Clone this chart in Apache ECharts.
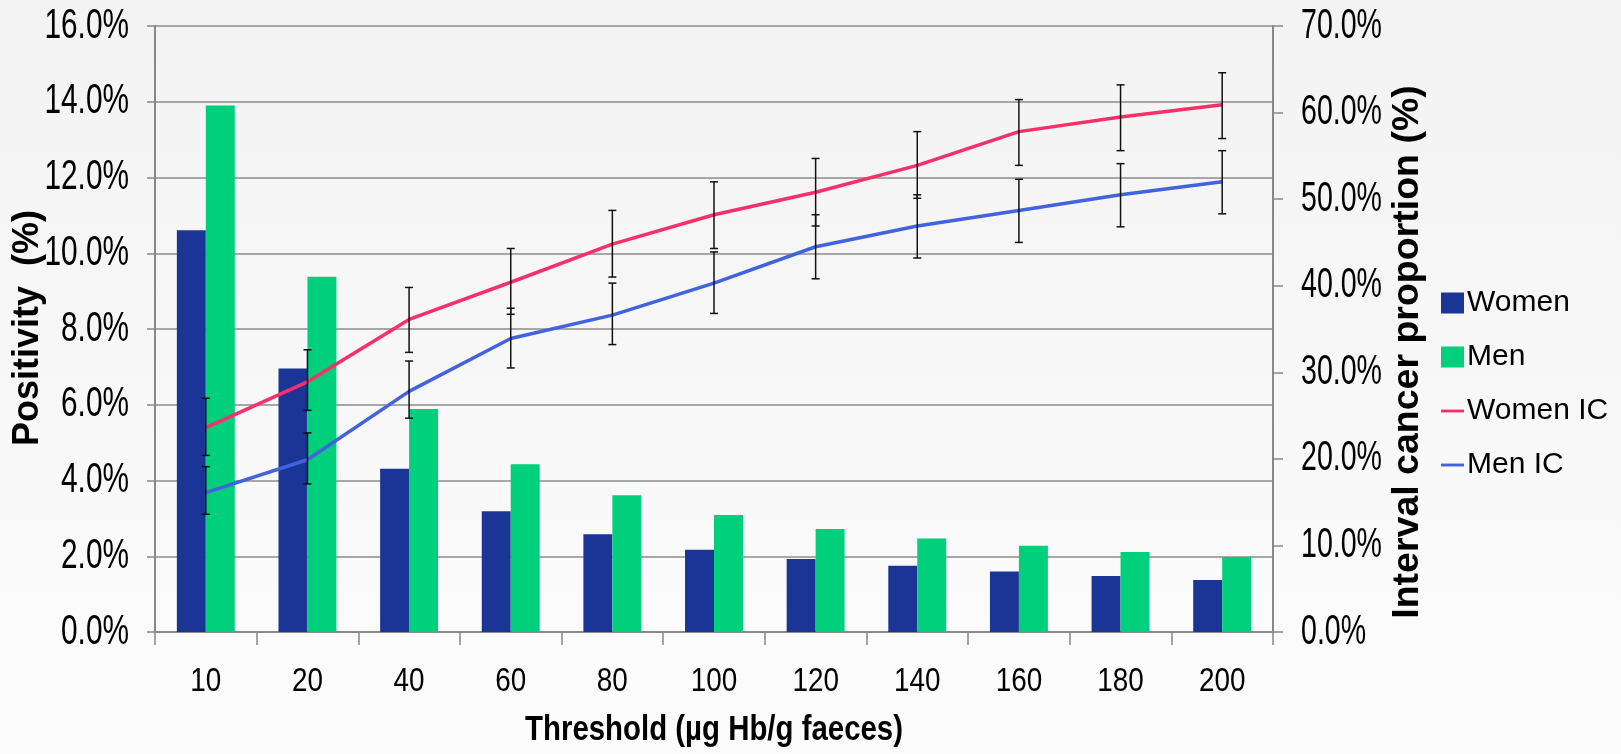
<!DOCTYPE html>
<html>
<head>
<meta charset="utf-8">
<script src="https://cdn.jsdelivr.net/npm/echarts@6/dist/echarts.min.js"></script>
<style>
  html, body { margin: 0; padding: 0; background: #f7f7f7; }
  #chart { width: 1621px; height: 754px; }
</style>
</head>
<body>
<div id="chart"></div>
<script>
// FIT thresholds (µg Hb/g faeces)
const thresholds = ['10', '20', '40', '60', '80', '100', '120', '140', '160', '180', '200'];

// Positivity (%) by sex
const womenPositivity = [10.61, 6.96, 4.31, 3.19, 2.58, 2.17, 1.93, 1.75, 1.60, 1.48, 1.37];
const menPositivity   = [13.90, 9.38, 5.89, 4.43, 3.61, 3.09, 2.72, 2.47, 2.28, 2.11, 1.98];

// Interval cancer proportion (%) with 95% CI
const womenIC      = [23.6, 28.9, 36.1, 40.4, 44.8, 48.2, 50.8, 53.9, 57.8, 59.5, 60.9];
const womenICLower = [20.4, 25.6, 32.3, 36.7, 41.0, 44.3, 46.9, 50.1, 53.9, 55.6, 57.0];
const womenICUpper = [27.0, 32.6, 39.8, 44.3, 48.7, 52.0, 54.7, 57.8, 61.5, 63.2, 64.6];
const menIC        = [16.1, 19.9, 27.8, 33.9, 36.6, 40.3, 44.5, 46.9, 48.7, 50.5, 52.0];
const menICLower   = [13.6, 17.1, 24.7, 30.5, 33.2, 36.8, 40.8, 43.2, 45.0, 46.8, 48.3];
const menICUpper   = [19.1, 23.0, 31.3, 37.4, 40.3, 43.9, 48.2, 50.5, 52.3, 54.1, 55.6];

// Axis tick values
const positivityTicks = [0, 2, 4, 6, 8, 10, 12, 14, 16];
const icTicks = [0, 10, 20, 30, 40, 50, 60, 70];

const FONT = "'Liberation Sans', Arial, sans-serif";

function pct(v) { return v.toFixed(1) + '%'; }

function ciData(lower, upper) {
  return thresholds.map((t, i) => [i, lower[i], upper[i]]);
}

// Vertical whisker with caps drawn on the right (IC) axis
function renderErrorBar(params, api) {
  const lo = api.coord([api.value(0), api.value(1)]);
  const hi = api.coord([api.value(0), api.value(2)]);
  const cap = 4;
  const style = { stroke: '#111', lineWidth: 1.5 };
  return {
    type: 'group',
    children: [
      { type: 'line', shape: { x1: hi[0], y1: hi[1], x2: lo[0], y2: lo[1] }, style },
      { type: 'line', shape: { x1: hi[0] - cap, y1: hi[1], x2: hi[0] + cap, y2: hi[1] }, style },
      { type: 'line', shape: { x1: lo[0] - cap, y1: lo[1], x2: lo[0] + cap, y2: lo[1] }, style }
    ]
  };
}

// Narrow (horizontally condensed) text element
function narrowText(x, y, text, size, align, squeeze, bold) {
  return {
    type: 'text', x: x, y: y, scaleX: squeeze, silent: true,
    style: {
      text: text, x: 0, y: 0, fill: '#000',
      fontFamily: FONT, fontSize: size, fontWeight: bold ? 'bold' : 'normal',
      textAlign: align, textVerticalAlign: 'middle'
    }
  };
}

// Category labels under the x axis
function renderXLabel(params, api) {
  const p = api.coord([api.value(0), 0]);
  return narrowText(p[0], p[1] + 50, thresholds[params.dataIndex], 34, 'center', 0.82, false);
}
// Left axis tick labels
function renderLeftLabel(params, api) {
  const p = api.coord([0, api.value(1)]);
  return narrowText(params.coordSys.x - 26, p[1], pct(api.value(1)), 42, 'right', 0.71, false);
}
// Right axis tick labels
function renderRightLabel(params, api) {
  const p = api.coord([0, api.value(1)]);
  return narrowText(params.coordSys.x + params.coordSys.width + 28, p[1], pct(api.value(1)), 42, 'left', 0.68, false);
}

const lineIcon = 'path://M0,0 L24,0 L24,3 L0,3 Z';

const chart = echarts.init(document.getElementById('chart'));
chart.setOption({
  animation: false,
  backgroundColor: {
    type: 'linear', x: 0, y: 0, x2: 0, y2: 1,
    colorStops: [{ offset: 0, color: '#f3f3f3' }, { offset: 1, color: '#fcfcfc' }]
  },
  grid: { left: 155, right: 348, top: 26, bottom: 122, outerBoundsMode: 'none', containLabel: false },
  legend: {
    orient: 'vertical',
    left: 1436,
    top: 283,
    itemGap: 24,
    itemWidth: 23,
    itemHeight: 21,
    symbolKeepAspect: true,
    textStyle: { fontFamily: FONT, fontSize: 30, color: '#000', padding: [0, 0, 0, -2] },
    data: [
      { name: 'Women', icon: 'rect' },
      { name: 'Men', icon: 'rect' },
      { name: 'Women IC', icon: lineIcon },
      { name: 'Men IC', icon: lineIcon }
    ]
  },
  graphic: [
    narrowText(714, 730, 'Threshold (µg Hb/g faeces)', 35, 'center', 0.84, true),
    {
      type: 'text', x: 28, y: 328, rotation: Math.PI / 2, silent: true,
      style: { text: 'Positivity  (%)', x: 0, y: 0, fill: '#000',
               fontFamily: FONT, fontSize: 36, fontWeight: 'bold',
               textAlign: 'center', textVerticalAlign: 'middle' }
    },
    {
      type: 'text', x: 1408, y: 352, rotation: Math.PI / 2, silent: true,
      style: { text: 'Interval cancer proportion (%)', x: 0, y: 0, fill: '#000',
               fontFamily: FONT, fontSize: 37.5, fontWeight: 'bold',
               textAlign: 'center', textVerticalAlign: 'middle' }
    }
  ],
  xAxis: {
    type: 'category',
    data: thresholds,
    axisLine: { lineStyle: { color: '#888', width: 2 } },
    axisTick: { show: true, length: 13, lineStyle: { color: '#888', width: 1.5 } },
    axisLabel: { show: false }
  },
  yAxis: [
    {
      type: 'value',
      min: 0, max: 16, interval: 2,
      axisLine: { show: true, lineStyle: { color: '#888', width: 2 } },
      axisTick: { show: true, length: 8, lineStyle: { color: '#888', width: 1.5 } },
      axisLabel: { show: false },
      splitLine: { lineStyle: { color: '#8c8c8c', width: 1.5 } }
    },
    {
      type: 'value',
      min: 0, max: 70, interval: 10,
      axisLine: { show: true, lineStyle: { color: '#888', width: 2 } },
      axisTick: { show: true, length: 10, lineStyle: { color: '#888', width: 1.5 } },
      axisLabel: { show: false },
      splitLine: { show: false }
    }
  ],
  series: [
    {
      name: 'Women', type: 'bar', data: womenPositivity,
      barWidth: '28.5%', barGap: '0%',
      itemStyle: { color: '#1b3596' }
    },
    {
      name: 'Men', type: 'bar', data: menPositivity,
      barWidth: '28.5%',
      itemStyle: { color: '#00cf7b' }
    },
    {
      name: 'Women IC', type: 'line', yAxisIndex: 1, data: womenIC,
      symbol: 'none', lineStyle: { color: '#f5306a', width: 3.5 }, itemStyle: { color: '#f5306a' }, z: 5
    },
    {
      name: 'Men IC', type: 'line', yAxisIndex: 1, data: menIC,
      symbol: 'none', lineStyle: { color: '#4164de', width: 3.5 }, itemStyle: { color: '#4164de' }, z: 5
    },
    {
      type: 'custom', yAxisIndex: 1, renderItem: renderErrorBar, silent: true,
      data: ciData(womenICLower, womenICUpper), z: 6, encode: { x: 0, y: [1, 2] }
    },
    {
      type: 'custom', yAxisIndex: 1, renderItem: renderErrorBar, silent: true,
      data: ciData(menICLower, menICUpper), z: 6, encode: { x: 0, y: [1, 2] }
    },
    {
      type: 'custom', renderItem: renderXLabel, silent: true, clip: false,
      data: thresholds.map((t, i) => [i, 0]), encode: { x: 0, y: 1 }
    },
    {
      type: 'custom', renderItem: renderLeftLabel, silent: true, clip: false,
      data: positivityTicks.map(v => [0, v]), encode: { x: 0, y: 1 }
    },
    {
      type: 'custom', yAxisIndex: 1, renderItem: renderRightLabel, silent: true, clip: false,
      data: icTicks.map(v => [0, v]), encode: { x: 0, y: 1 }
    }
  ]
});
</script>
</body>
</html>
